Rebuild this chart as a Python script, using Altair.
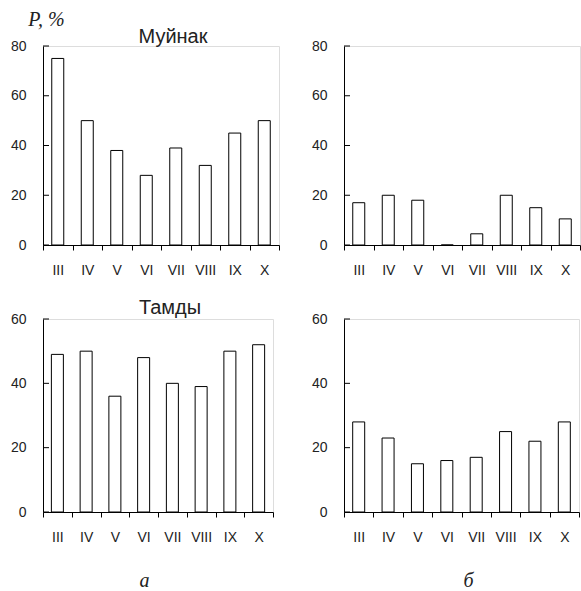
import altair as alt
import pandas as pd

months = ["III", "IV", "V", "VI", "VII", "VIII", "IX", "X"]
muynak_a = [75, 50, 38, 28, 39, 32, 45, 50]
muynak_b = [17, 20, 18, 0, 4.5, 20, 15, 10.5]
tamdy_a = [49, 50, 36, 48, 40, 39, 50, 52]
tamdy_b = [28, 23, 15, 16, 17, 25, 22, 28]
yticks_top = [0, 20, 40, 60, 80]
yticks_bottom = [0, 20, 40, 60]

SANS = "Liberation Sans"
SERIF = "Liberation Serif"
TXT = "#222222"


def panel(values, yticks, w, h, title=None, title_offset=3, ytitle=None, xtitle=None,
          xtitle_x=0, xtitle_y=70):
    df = pd.DataFrame({"month": months, "P": values})
    ymax = yticks[-1]
    yaxis_kw = dict(
        values=yticks, ticks=False, grid=False, domainColor="black", domainWidth=1,
        labelFont=SANS, labelFontSize=14, labelColor=TXT, labelPadding=17,
    )
    if ytitle:
        yaxis_kw.update(
            title=ytitle, titleAngle=0, titleFont=SERIF, titleFontStyle="italic",
            titleFontWeight="normal", titleFontSize=20, titleColor=TXT,
            titleX=3, titleY=-27, titleAlign="center", titleBaseline="middle",
        )
    else:
        yaxis_kw.update(title=None)
    xaxis_kw = dict(
        tickBand="extent", tickSize=5, tickColor="black", domainColor="black",
        labelAngle=0, labelFont=SANS, labelFontSize=14, labelColor=TXT, labelPadding=13,
        grid=False,
    )
    if xtitle:
        xaxis_kw.update(
            title=xtitle, titleFont=SERIF, titleFontStyle="italic", titleFontWeight="normal",
            titleFontSize=20, titleColor=TXT, titleX=xtitle_x, titleY=xtitle_y,
            titleAlign="center", titleBaseline="middle",
        )
    else:
        xaxis_kw.update(title=None)

    yscale = alt.Scale(domain=[0, ymax], nice=False)
    bars = alt.Chart(df).mark_bar(size=12, fill="white", stroke="black", strokeWidth=1).encode(
        x=alt.X("month:N", sort=months, scale=alt.Scale(paddingInner=0, paddingOuter=0),
                axis=alt.Axis(**xaxis_kw)),
        y=alt.Y("P:Q", scale=yscale, axis=alt.Axis(**yaxis_kw)),
    )
    tdf = pd.DataFrame({"P": yticks})
    ticks = alt.Chart(tdf).mark_rule(color="black", strokeWidth=1).encode(
        y=alt.Y("P:Q", scale=yscale),
        x=alt.value(0),
        x2=alt.value(6),
    )
    props = dict(width=w, height=h)
    if title:
        props["title"] = alt.TitleParams(
            text=title, font=SANS, fontSize=20, fontWeight="normal", color=TXT,
            anchor="middle", frame="group", dx=12, offset=title_offset,
        )
    return alt.layer(bars, ticks).properties(**props)


tl = panel(muynak_a, yticks_top, 236, 199, title="Муйнак", title_offset=-38, ytitle="P, %")
tr = panel(muynak_b, yticks_top, 236, 199)
bl = panel(tamdy_a, yticks_bottom, 230, 193, title="Тамды", title_offset=-6,
           xtitle="а", xtitle_x=101, xtitle_y=68)
br = panel(tamdy_b, yticks_bottom, 235, 193, xtitle="б", xtitle_x=124, xtitle_y=68)

chart = alt.concat(tl, tr, bl, br, columns=2, spacing={"row": 74, "column": 65},
                   bounds="flush").properties(
    padding={"left": 9, "top": 8, "right": 0, "bottom": 0}
).configure_view(strokeWidth=0).configure(background="white")

chart.save("out.html", embed_options={"renderer": "svg", "actions": False})
